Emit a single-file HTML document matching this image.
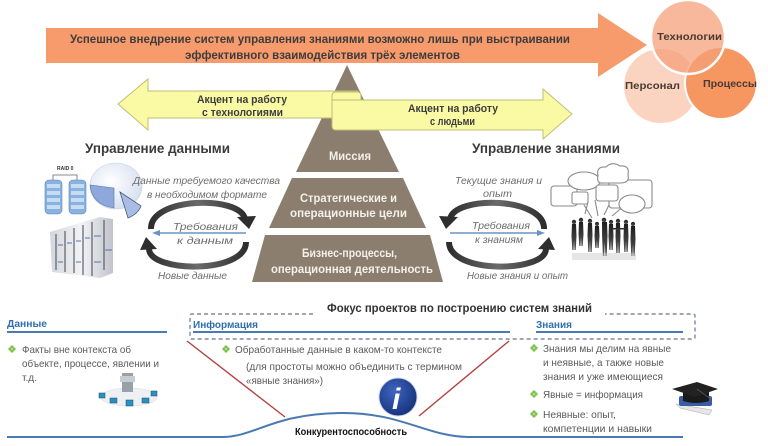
<!DOCTYPE html>
<html><head><meta charset="utf-8">
<style>
html,body{margin:0;padding:0;background:#fff;}
svg{display:block;}
text{font-family:"Liberation Sans","DejaVu Sans",sans-serif;}
.b{font-weight:bold;}
.it{font-style:italic;fill:#6c6c6c;font-size:10.5px;}
.bl{fill:#5a5a5a;font-size:10.5px;}
.hd{fill:#2f6fad;font-weight:bold;font-size:10.5px;}
.py{fill:#f4f0ea;font-weight:bold;font-size:12px;}
</style></head><body>
<svg width="768" height="446" viewBox="0 0 768 446" xmlns="http://www.w3.org/2000/svg">
<defs>
 <linearGradient id="srv" x1="0" y1="0" x2="1" y2="0">
  <stop offset="0" stop-color="#d3d6dc"/><stop offset="0.5" stop-color="#f2f3f5"/><stop offset="1" stop-color="#c0c4cb"/>
 </linearGradient>
 <radialGradient id="info" cx="0.4" cy="0.35" r="0.7">
  <stop offset="0" stop-color="#3f66c0"/><stop offset="1" stop-color="#14307a"/>
 </radialGradient>
 <radialGradient id="pie" cx="0.4" cy="0.4" r="0.7">
  <stop offset="0" stop-color="#ffffff"/><stop offset="1" stop-color="#d3dcef"/>
 </radialGradient>
 <linearGradient id="cyc" x1="0" y1="0" x2="1" y2="0">
  <stop offset="0" stop-color="#2e2e2e"/><stop offset="0.5" stop-color="#6a6a6a"/><stop offset="1" stop-color="#2e2e2e"/>
 </linearGradient>
 <linearGradient id="ppl" x1="0" y1="0" x2="0" y2="1">
  <stop offset="0" stop-color="#1e1e1e"/><stop offset="1" stop-color="#555"/>
 </linearGradient>
</defs>

<!-- top orange arrow -->
<polygon points="46,28 598,28 598,13 647,45 598,77 598,63 46,63" fill="#f79a6c"/>
<text class="b" x="70" y="43" font-size="11.5" fill="#3d3d3d" textLength="500" lengthAdjust="spacingAndGlyphs">Успешное внедрение  систем управления знаниями возможно лишь при выстраивании</text>
<text class="b" x="185" y="59" font-size="11.5" fill="#3d3d3d" textLength="275" lengthAdjust="spacingAndGlyphs">эффективного взаимодействия трёх элементов</text>

<!-- venn circles -->
<circle cx="661" cy="86" r="38" fill="#fbd4c1" stroke="#fff" stroke-width="2"/>
<circle cx="721" cy="83" r="36" fill="#f69762" stroke="#fff" stroke-width="2"/>
<circle cx="688" cy="37" r="37" fill="#f5a07a" fill-opacity="0.75" stroke="#fff" stroke-width="2.5"/>
<text class="b" x="657" y="40" font-size="10.5" fill="#4a3a32" textLength="65" lengthAdjust="spacingAndGlyphs">Технологии</text>
<text class="b" x="625" y="89" font-size="10.5" fill="#4a3a32" textLength="55" lengthAdjust="spacingAndGlyphs">Персонал</text>
<text class="b" x="703" y="87" font-size="10.5" fill="#4a3a32" textLength="54" lengthAdjust="spacingAndGlyphs">Процессы</text>

<!-- pyramid -->
<g fill="#8b7e6f">
 <polygon points="347,65 399,172 296,172"/>
 <polygon points="292,178 403,178 426,228 269,228"/>
 <polygon points="265,235 430,235 443,282 252,282"/>
</g>
<text class="py" x="329" y="160" textLength="42" lengthAdjust="spacingAndGlyphs">Миссия</text>
<text class="py" x="300" y="202" textLength="97" lengthAdjust="spacingAndGlyphs">Стратегические и</text>
<text class="py" x="290" y="217" textLength="117" lengthAdjust="spacingAndGlyphs">операционные цели</text>
<text class="py" x="302" y="257" textLength="95" lengthAdjust="spacingAndGlyphs">Бизнес-процессы,</text>
<text class="py" x="271" y="273" textLength="162" lengthAdjust="spacingAndGlyphs">операционная деятельность</text>

<!-- left yellow arrow -->
<polygon points="118,104 148,79 148,91 358,91 358,118 148,118 148,130" fill="#fafaa5" stroke="#bfbf78" stroke-width="1"/>
<text class="b" x="197" y="103" font-size="11" fill="#3d3d3d" textLength="90" lengthAdjust="spacingAndGlyphs">Акцент на работу</text>
<text class="b" x="202" y="116" font-size="11" fill="#3d3d3d" textLength="81" lengthAdjust="spacingAndGlyphs">с технологиями</text>

<!-- right yellow arrow with scroll -->
<path d="M336,92 L357,92 Q361,92 361,96 L361,100 L543,100 L543,89 L572,114 L543,139 L543,130 L336,130 Q332,130 332,126 L332,96 Q332,92 336,92 Z" fill="#fafaa5" stroke="#bfbf78" stroke-width="1"/>
<path d="M332,100 L361,100" stroke="#bfbf78" stroke-width="1" fill="none"/>
<text class="b" x="408" y="112" font-size="11" fill="#3d3d3d" textLength="90" lengthAdjust="spacingAndGlyphs">Акцент на работу</text>
<text class="b" x="430" y="125" font-size="11" fill="#3d3d3d" textLength="45" lengthAdjust="spacingAndGlyphs">с людьми</text>

<!-- headings -->
<text class="b" x="85" y="153" font-size="14" fill="#3a3a3a" textLength="145" lengthAdjust="spacingAndGlyphs">Управление данными</text>
<text class="b" x="472" y="153" font-size="14" fill="#3a3a3a" textLength="148" lengthAdjust="spacingAndGlyphs">Управление знаниями</text>

<!-- RAID -->
<text x="57" y="170" font-size="5" font-weight="bold" fill="#333">RAID 0</text>
<path d="M53,180 L53,175 L77,175 L77,180" stroke="#666" fill="none" stroke-width="0.8"/>
<g>
 <rect x="45" y="180" width="17" height="34" rx="4" fill="#89b2e0" stroke="#5f86b8" stroke-width="0.6"/>
 <rect x="69" y="180" width="17" height="34" rx="4" fill="#89b2e0" stroke="#5f86b8" stroke-width="0.6"/>
 <g fill="#c6dcf3">
  <rect x="47" y="184" width="13" height="4"/><rect x="47" y="191" width="13" height="4"/><rect x="47" y="198" width="13" height="4"/><rect x="47" y="205" width="13" height="4"/>
  <rect x="71" y="184" width="13" height="4"/><rect x="71" y="191" width="13" height="4"/><rect x="71" y="198" width="13" height="4"/><rect x="71" y="205" width="13" height="4"/>
 </g>
</g>
<!-- pie -->
<ellipse cx="116" cy="186" rx="26" ry="23" fill="url(#pie)" stroke="#c5cfe3" stroke-width="0.6"/>
<path d="M114,188 L90,185 Q92,205 114,208 Z" fill="#8fa8dc" stroke="#5a74a8" stroke-width="0.6"/>
<path d="M120,192 L128,218 Q138,214 141,206 Z" fill="#a9bce6" stroke="#4a5a7a" stroke-width="0.8"/>
<!-- servers -->
<polygon points="50,232 100,217 113,219 113,273 100,278 52,272" fill="url(#srv)"/>
<g stroke="#5a5f6a" stroke-width="1.2">
 <line x1="56" y1="234" x2="56" y2="270"/><line x1="65" y1="231" x2="65" y2="272"/>
 <line x1="74" y1="228" x2="74" y2="273"/><line x1="83" y1="225" x2="83" y2="275"/>
 <line x1="92" y1="222" x2="92" y2="276"/><line x1="104" y1="220" x2="104" y2="270"/>
</g>
<g stroke="#5c6fb3" stroke-width="1">
 <line x1="58" y1="245" x2="63" y2="245"/><line x1="67" y1="243" x2="72" y2="243"/><line x1="76" y1="241" x2="81" y2="241"/>
 <line x1="85" y1="238" x2="90" y2="238"/><line x1="94" y1="236" x2="101" y2="236"/><line x1="105" y1="250" x2="112" y2="250"/>
 <line x1="58" y1="262" x2="63" y2="262"/><line x1="76" y1="262" x2="81" y2="262"/><line x1="94" y1="262" x2="101" y2="262"/>
</g>

<!-- left cycle -->
<text class="it" x="133" y="184" textLength="147" lengthAdjust="spacingAndGlyphs">Данные требуемого качества</text>
<text class="it" x="147" y="198" textLength="120" lengthAdjust="spacingAndGlyphs">в необходимом формате</text>
<path d="M151,229 C150,197 240,195 245,219" stroke="url(#cyc)" stroke-width="6" fill="none"/>
<polygon points="237,217 256,216 249,229" fill="#2e2e2e"/>
<path d="M246,242 C246,274 150,273 149,249" stroke="url(#cyc)" stroke-width="6" fill="none"/>
<polygon points="140,250 157,249 146,237" fill="#2e2e2e"/>
<line x1="246" y1="233" x2="158" y2="233" stroke="#6b93c2" stroke-width="1.5"/>
<polygon points="152,233 160,230 160,236" fill="#6b93c2"/>
<text class="it" x="173" y="230" textLength="65" lengthAdjust="spacingAndGlyphs">Требования</text>
<text class="it" x="177" y="244" textLength="56" lengthAdjust="spacingAndGlyphs">к данным</text>
<text class="it" x="158" y="279" textLength="69" lengthAdjust="spacingAndGlyphs">Новые данные</text>

<!-- right cycle -->
<text class="it" x="455" y="184" textLength="87" lengthAdjust="spacingAndGlyphs">Текущие знания и</text>
<text class="it" x="483" y="197" textLength="29" lengthAdjust="spacingAndGlyphs">опыт</text>
<path d="M544,229 C545,197 455,195 450,219" stroke="url(#cyc)" stroke-width="6" fill="none"/>
<polygon points="458,217 439,216 446,229" fill="#2e2e2e"/>
<path d="M449,242 C449,274 545,273 546,249" stroke="url(#cyc)" stroke-width="6" fill="none"/>
<polygon points="555,250 538,249 549,237" fill="#2e2e2e"/>
<line x1="450" y1="233" x2="538" y2="233" stroke="#6b93c2" stroke-width="1.5"/>
<polygon points="545,233 537,230 537,236" fill="#6b93c2"/>
<text class="it" x="472" y="229" textLength="58" lengthAdjust="spacingAndGlyphs">Требования</text>
<text class="it" x="475" y="243" textLength="48" lengthAdjust="spacingAndGlyphs">к знаниям</text>
<text class="it" x="467" y="279" textLength="101" lengthAdjust="spacingAndGlyphs">Новые знания и опыт</text>

<!-- people with speech bubbles -->
<g fill="#fff" stroke="#8a8a8a" stroke-width="1.1">
 <path d="M585,214 L588,202 M598,216 L595,200 M604,215 L610,203 M612,216 L624,206 M592,218 L584,205"/>
 <rect x="551" y="186" width="26" height="20" rx="3"/>
 <rect x="609" y="180" width="43" height="28" rx="3"/>
 <ellipse cx="584" cy="181" rx="16" ry="9"/>
 <path d="M598,176 Q596,166 606,167 Q612,161 620,166 Q630,165 628,175 Q630,183 620,183 L604,183 Q596,184 598,176 Z"/>
 <rect x="596" y="185" width="22" height="16" rx="3"/>
 <ellipse cx="632" cy="204" rx="13" ry="9"/>
 <rect x="572" y="192" width="16" height="12" rx="2"/>
</g>
<g fill="url(#ppl)">
 <circle cx="574" cy="222" r="2.2"/><path d="M572,224 h4 l0.5,12 l-0.8,14 h-1.2 l-0.5,-10 l-0.5,10 h-1.2 l-0.8,-14 z"/>
 <circle cx="581" cy="220" r="2.2"/><path d="M579,222 h4 l0.5,12 l-0.8,12 h-1.2 l-0.5,-9 l-0.5,9 h-1.2 l-0.8,-12 z"/>
 <circle cx="590" cy="221" r="2.2"/><path d="M588,223 h4 l0.5,12 l-0.8,17 h-1.2 l-0.5,-12 l-0.5,12 h-1.2 l-0.8,-17 z"/>
 <circle cx="597" cy="224" r="2.1"/><path d="M595,226 h4 l0.5,10 l-0.8,12 h-1.2 l-0.5,-8 l-0.5,8 h-1.2 l-0.8,-12 z"/>
 <circle cx="604" cy="220" r="2.3"/><path d="M602,222 h5 l0.5,14 l-0.8,20 h-1.3 l-0.6,-14 l-0.6,14 h-1.3 l-0.8,-20 z"/>
 <circle cx="611" cy="222" r="2.1"/><path d="M609,224 h4 l0.5,12 l-0.8,14 h-1.2 l-0.5,-10 l-0.5,10 h-1.2 l-0.8,-14 z"/>
 <circle cx="618" cy="221" r="2.2"/><path d="M616,223 h4 l0.5,13 l-0.8,17 h-1.2 l-0.5,-12 l-0.5,12 h-1.2 l-0.8,-17 z"/>
 <circle cx="626" cy="222" r="2.2"/><path d="M624,224 h4 l0.5,13 l-0.8,15 h-1.2 l-0.5,-11 l-0.5,11 h-1.2 l-0.8,-15 z"/>
 <circle cx="633" cy="224" r="2.1"/><path d="M631,226 h4 l0.5,13 l-0.8,17 h-1.2 l-0.5,-12 l-0.5,12 h-1.2 l-0.8,-17 z"/>
 <rect x="612" y="228" width="12" height="1.6"/>
</g>
<g fill="#c8c8c8" opacity="0.45">
 <rect x="572" y="253" width="64" height="7"/>
</g>

<!-- Focus heading and dashed box -->
<text class="b" x="327" y="312" font-size="11.5" fill="#333" textLength="265" lengthAdjust="spacingAndGlyphs">Фокус проектов по построению систем знаний</text>
<path d="M313,314 L192,314 Q190,314 190,316 L190,337 Q190,339 192,339 L693,339 Q695,339 695,337 L695,316 Q695,314 693,314 L605,314" fill="none" stroke="#7f8a99" stroke-width="1.4" stroke-dasharray="4,3"/>

<!-- column headings -->
<text class="hd" x="7" y="327" textLength="40" lengthAdjust="spacingAndGlyphs">Данные</text>
<text class="hd" x="193" y="328" textLength="65" lengthAdjust="spacingAndGlyphs">Информация</text>
<text class="hd" x="536" y="328" textLength="36" lengthAdjust="spacingAndGlyphs">Знания</text>
<g stroke="#4a7ab3" stroke-width="2">
 <line x1="7" y1="332" x2="167" y2="332"/>
 <line x1="193" y1="332" x2="510" y2="332"/>
 <line x1="536" y1="332" x2="683" y2="332"/>
</g>

<!-- bullets -->
<g fill="#7cbf4a">
 <g transform="translate(12,349)"><circle cx="0" cy="-2" r="1.6"/><circle cx="0" cy="2" r="1.6"/><circle cx="-2" cy="0" r="1.6"/><circle cx="2" cy="0" r="1.6"/></g>
 <g transform="translate(226,349)"><circle cx="0" cy="-2" r="1.6"/><circle cx="0" cy="2" r="1.6"/><circle cx="-2" cy="0" r="1.6"/><circle cx="2" cy="0" r="1.6"/></g>
 <g transform="translate(534,348)"><circle cx="0" cy="-2" r="1.6"/><circle cx="0" cy="2" r="1.6"/><circle cx="-2" cy="0" r="1.6"/><circle cx="2" cy="0" r="1.6"/></g>
 <g transform="translate(534,394)"><circle cx="0" cy="-2" r="1.6"/><circle cx="0" cy="2" r="1.6"/><circle cx="-2" cy="0" r="1.6"/><circle cx="2" cy="0" r="1.6"/></g>
 <g transform="translate(534,414)"><circle cx="0" cy="-2" r="1.6"/><circle cx="0" cy="2" r="1.6"/><circle cx="-2" cy="0" r="1.6"/><circle cx="2" cy="0" r="1.6"/></g>
</g>
<g fill="#fff"><circle cx="12" cy="349" r="0.8"/><circle cx="226" cy="349" r="0.8"/><circle cx="534" cy="348" r="0.8"/><circle cx="534" cy="394" r="0.8"/><circle cx="534" cy="414" r="0.8"/></g>

<text class="bl" x="22" y="353" textLength="109" lengthAdjust="spacingAndGlyphs">Факты вне контекста об</text>
<text class="bl" x="22" y="367" textLength="137" lengthAdjust="spacingAndGlyphs">объекте, процессе, явлении и</text>
<text class="bl" x="22" y="381" textLength="15" lengthAdjust="spacingAndGlyphs">т.д.</text>

<text class="bl" x="235" y="353" textLength="207" lengthAdjust="spacingAndGlyphs">Обработанные данные в каком-то контексте</text>
<text class="bl" x="246" y="370" textLength="216" lengthAdjust="spacingAndGlyphs">(для простоты можно объединить с термином</text>
<text class="bl" x="246" y="384" textLength="77" lengthAdjust="spacingAndGlyphs">«явные знания»)</text>

<text class="bl" x="543" y="352" textLength="128" lengthAdjust="spacingAndGlyphs">Знания мы делим на явные</text>
<text class="bl" x="543" y="366" textLength="121" lengthAdjust="spacingAndGlyphs">и неявные, а также новые</text>
<text class="bl" x="543" y="380" textLength="120" lengthAdjust="spacingAndGlyphs">знания и уже имеющиеся</text>
<text class="bl" x="543" y="398" textLength="100" lengthAdjust="spacingAndGlyphs">Явные = информация</text>
<text class="bl" x="543" y="418" textLength="73" lengthAdjust="spacingAndGlyphs">Неявные: опыт,</text>
<text class="bl" x="543" y="432" textLength="109" lengthAdjust="spacingAndGlyphs">компетенции и навыки</text>

<!-- red lines -->
<line x1="187" y1="341" x2="285" y2="417" stroke="#b5403f" stroke-width="1.4"/>
<line x1="509" y1="341" x2="419" y2="416" stroke="#b5403f" stroke-width="1.4"/>

<!-- bottom curve -->
<path d="M7,437 L222,437 C255,437 272,414 340,413 C400,412 425,436 468,437 L683,437" fill="none" stroke="#4a7ab3" stroke-width="2"/>
<text class="b" x="295" y="435" font-size="10" fill="#111" textLength="112" lengthAdjust="spacingAndGlyphs">Конкурентоспособность</text>

<!-- info icon -->
<circle cx="398" cy="397" r="19" fill="url(#info)" stroke="#c9d3e8" stroke-width="1"/>
<text x="392" y="409" font-family="Liberation Serif, serif" font-style="italic" font-weight="bold" font-size="30" fill="#fff">i</text>

<!-- network image -->
<ellipse cx="129" cy="397" rx="28" ry="9" fill="#eef0f3" stroke="#d8dbe0" stroke-width="0.6"/>
<rect x="122" y="373" width="11" height="19" fill="#9aa0aa"/>
<rect x="120" y="376" width="15" height="6" fill="#c8ccd3"/>
<g fill="#2b8fc2" stroke="#1d4f6a" stroke-width="0.5">
 <rect x="99" y="393" width="6" height="5"/><rect x="110" y="398" width="7" height="5"/>
 <rect x="126" y="400" width="7" height="6"/><rect x="142" y="398" width="7" height="5"/>
 <rect x="151" y="391" width="6" height="5"/>
</g>

<!-- graduation cap -->
<path d="M676,404 L712,410 L709,415 L680,408 Z" fill="#e6e6e6" stroke="#aaa" stroke-width="0.5"/>
<rect x="679" y="396" width="33" height="10" rx="2" fill="#3b5da8"/>
<path d="M683,392 L709,392 L709,401 Q696,405 683,401 Z" fill="#1a1a1a"/>
<polygon points="672,389 697,382 718,389 695,397" fill="#222"/>
<line x1="697" y1="389" x2="712" y2="400" stroke="#555" stroke-width="0.8"/>
</svg>
</body></html>
